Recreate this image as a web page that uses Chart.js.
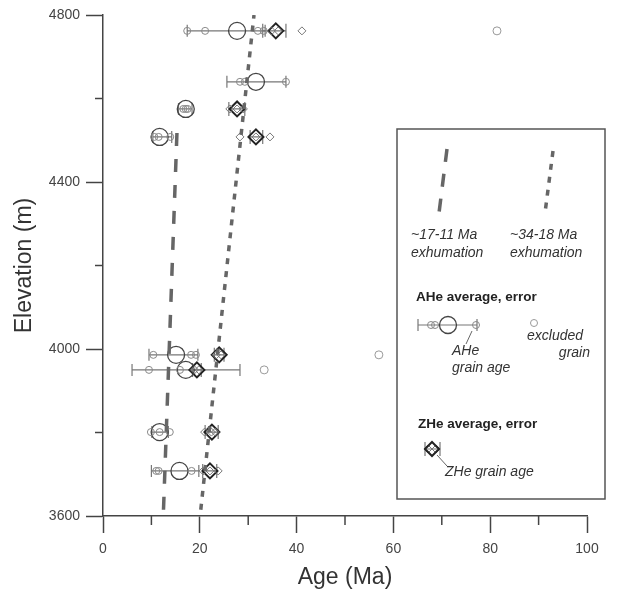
<!DOCTYPE html>
<html>
<head>
<meta charset="utf-8">
<script src="https://cdn.jsdelivr.net/npm/chart.js@4/dist/chart.umd.min.js"></script>
<style>
  html, body { margin: 0; padding: 0; background: #fff; }
  canvas { display: block; }
</style>
</head>
<body>
<canvas id="c" width="621" height="592"></canvas>
<script>
// ---------- DATA ----------
// AHe sample averages (elevation m, mean age Ma, error bar low/high Ma)
const aheElev = [4762, 4640, 4575, 4508, 3986, 3950, 3801, 3708];
const aheMean = [27.7, 31.6, 17.1, 11.7, 15.1, 17.1, 11.7, 15.8];
const aheLow  = [17.4, 25.6, 15.6, 10.3, 9.5, 6.0, 10.1, 10.0];
const aheHigh = [33.5, 37.8, 18.4, 14.2, 19.6, 28.3, 13.5, 19.8];

// AHe single-grain ages
const aheGrainAge  = [17.4, 21.1, 32.0, 33.2, 28.3, 29.3, 37.8, 16.6, 17.1, 17.5, 10.6, 11.5, 13.9,
                      10.4, 18.2, 19.2, 9.5, 15.9, 9.9, 11.7, 13.8, 11.0, 11.5, 18.3];
const aheGrainElev = [4762, 4762, 4762, 4762, 4640, 4640, 4640, 4575, 4575, 4575, 4508, 4508, 4508,
                      3986, 3986, 3986, 3950, 3950, 3801, 3801, 3801, 3708, 3708, 3708];

// Excluded AHe grains
const exclAge  = [81.4, 57.0, 33.3];
const exclElev = [4762, 3986, 3950];

// ZHe sample averages
const zheElev = [4762, 4575, 4508, 3986, 3950, 3801, 3708];
const zheMean = [35.7, 27.7, 31.6, 24.0, 19.4, 22.5, 22.1];
const zheLow  = [33.0, 26.0, 30.4, 23.0, 18.5, 21.1, 20.6];
const zheHigh = [37.8, 29.3, 33.0, 25.0, 20.3, 23.8, 23.5];

// ZHe single-grain ages
const zheGrainAge  = [34.8, 36.2, 41.1, 26.2, 27.7, 29.0, 28.3, 31.6, 34.5, 23.4, 24.4, 18.9, 19.8,
                      21.0, 22.4, 23.2, 20.7, 22.1, 23.8];
const zheGrainElev = [4762, 4762, 4762, 4575, 4575, 4575, 4508, 4508, 4508, 3986, 3986, 3950, 3950,
                      3801, 3801, 3801, 3708, 3708, 3708];

// Exhumation trend lines
const fastTrendAge  = [12.5, 15.3];
const fastTrendElev = [3615, 4525];
const slowTrendAge  = [20.2, 31.2];
const slowTrendElev = [3615, 4800];

// Axis ticks
const xTickStep = 10, xLabelStep = 20;
const yTickStep = 200, yLabelStep = 400;

// ---------- HELPERS ----------
const pts = (xs, ys) => xs.map((x, i) => ({x: x, y: ys[i]}));
const FONT = '"Liberation Sans", Arial, Helvetica, sans-serif';

const errorBarPlugin = {
  id: 'errorBars',
  beforeDatasetsDraw(chart) {
    const {ctx, scales: {x, y}} = chart;
    ctx.save();
    ctx.strokeStyle = '#777';
    ctx.lineWidth = 1.2;
    const draw = (lo, hi, el, cap) => {
      for (let i = 0; i < el.length; i++) {
        const py = y.getPixelForValue(el[i]);
        const x1 = x.getPixelForValue(lo[i]);
        const x2 = x.getPixelForValue(hi[i]);
        ctx.beginPath();
        ctx.moveTo(x1, py); ctx.lineTo(x2, py);
        ctx.moveTo(x1, py - cap); ctx.lineTo(x1, py + cap);
        ctx.moveTo(x2, py - cap); ctx.lineTo(x2, py + cap);
        ctx.stroke();
      }
    };
    draw(aheLow, aheHigh, aheElev, 6);
    draw(zheLow, zheHigh, zheElev, 7);
    ctx.restore();
  }
};

const minorTickPlugin = {
  id: 'minorTicks',
  afterDraw(chart) {
    const {ctx, scales: {x, y}} = chart;
    ctx.save();
    ctx.strokeStyle = '#444';
    ctx.lineWidth = 1.5;
    for (let v = x.min; v <= x.max; v += xTickStep) {
      if (v % xLabelStep === 0) continue;
      const px = x.getPixelForValue(v);
      ctx.beginPath(); ctx.moveTo(px, x.top); ctx.lineTo(px, x.top + 9); ctx.stroke();
    }
    for (let v = y.min; v <= y.max; v += yTickStep) {
      if (v % yLabelStep === 0) continue;
      const py = y.getPixelForValue(v);
      ctx.beginPath(); ctx.moveTo(y.right, py); ctx.lineTo(y.right - 8, py); ctx.stroke();
    }
    ctx.restore();
  }
};

const legendPlugin = {
  id: 'customLegend',
  afterDraw(chart) {
    const ctx = chart.ctx;
    ctx.save();
    // box
    ctx.strokeStyle = '#555';
    ctx.lineWidth = 1.5;
    ctx.strokeRect(397, 129, 208, 370);

    // sample trend lines
    ctx.strokeStyle = '#666';
    ctx.lineWidth = 3.5;
    ctx.setLineDash([13, 12]);
    ctx.beginPath(); ctx.moveTo(447, 149); ctx.lineTo(439, 213); ctx.stroke();
    ctx.setLineDash([6, 7]);
    ctx.beginPath(); ctx.moveTo(553, 151); ctx.lineTo(545, 213); ctx.stroke();
    ctx.setLineDash([]);

    // texts
    ctx.fillStyle = '#333';
    ctx.textBaseline = 'middle';
    ctx.textAlign = 'left';
    ctx.font = 'italic 14px ' + FONT;
    ctx.fillText('~17-11 Ma', 411, 235);
    ctx.fillText('exhumation', 411, 253);
    ctx.fillText('~34-18 Ma', 510, 235);
    ctx.fillText('exhumation', 510, 253);
    ctx.fillText('AHe', 452, 351);
    ctx.fillText('grain age', 452, 368);
    ctx.fillText('excluded', 527, 336);
    ctx.fillText('ZHe grain age', 445, 472);
    ctx.textAlign = 'right';
    ctx.fillText('grain', 590, 353);
    ctx.textAlign = 'left';
    ctx.fillStyle = '#222';
    ctx.font = 'bold 13.5px ' + FONT;
    ctx.fillText('AHe average, error', 416, 297);
    ctx.fillText('ZHe average, error', 418, 424);

    // AHe sample symbol
    ctx.strokeStyle = '#777'; ctx.lineWidth = 1.2;
    ctx.beginPath();
    ctx.moveTo(418, 325); ctx.lineTo(477, 325);
    ctx.moveTo(418, 319); ctx.lineTo(418, 331);
    ctx.moveTo(477, 319); ctx.lineTo(477, 331);
    ctx.stroke();
    const circ = (cx, cy, r, col, w) => {
      ctx.strokeStyle = col; ctx.lineWidth = w;
      ctx.beginPath(); ctx.arc(cx, cy, r, 0, Math.PI * 2); ctx.stroke();
    };
    const diam = (cx, cy, r, col, w) => {
      ctx.strokeStyle = col; ctx.lineWidth = w;
      ctx.beginPath();
      ctx.moveTo(cx - r, cy); ctx.lineTo(cx, cy - r); ctx.lineTo(cx + r, cy); ctx.lineTo(cx, cy + r);
      ctx.closePath(); ctx.stroke();
    };
    circ(431, 325, 3.5, '#888', 1);
    circ(435, 325, 3.5, '#888', 1);
    circ(476, 325, 3.5, '#888', 1);
    circ(448, 325, 8.5, '#444', 1.3);
    circ(534, 323, 3.5, '#999', 1);
    ctx.strokeStyle = '#666'; ctx.lineWidth = 1;
    ctx.beginPath(); ctx.moveTo(472, 331); ctx.lineTo(466, 344); ctx.stroke();

    // ZHe sample symbol
    ctx.strokeStyle = '#777'; ctx.lineWidth = 1.2;
    ctx.beginPath();
    ctx.moveTo(425, 449); ctx.lineTo(440, 449);
    ctx.moveTo(425, 442); ctx.lineTo(425, 456);
    ctx.moveTo(440, 442); ctx.lineTo(440, 456);
    ctx.stroke();
    diam(428, 449, 4, '#777', 1);
    diam(436, 449, 4, '#777', 1);
    diam(432, 449, 7, '#222', 2);
    ctx.strokeStyle = '#666'; ctx.lineWidth = 1;
    ctx.beginPath(); ctx.moveTo(437, 455); ctx.lineTo(447, 466); ctx.stroke();
    ctx.restore();
  }
};

// ---------- CHART ----------
new Chart(document.getElementById('c').getContext('2d'), {
  type: 'scatter',
  data: {
    datasets: [
      { label: '~17-11 Ma exhumation', data: pts(fastTrendAge, fastTrendElev), showLine: true,
        borderColor: '#666', borderWidth: 3.5, borderDash: [13, 13], pointRadius: 0, fill: false },
      { label: '~34-18 Ma exhumation', data: pts(slowTrendAge, slowTrendElev), showLine: true,
        borderColor: '#666', borderWidth: 3.5, borderDash: [6, 7], pointRadius: 0, fill: false },
      { label: 'excluded grain', data: pts(exclAge, exclElev), pointStyle: 'circle', pointRadius: 4,
        borderColor: '#999', borderWidth: 1, backgroundColor: 'rgba(0,0,0,0)' },
      { label: 'AHe grain age', data: pts(aheGrainAge, aheGrainElev), pointStyle: 'circle', pointRadius: 3.5,
        borderColor: '#888', borderWidth: 1, backgroundColor: 'rgba(0,0,0,0)' },
      { label: 'AHe average', data: pts(aheMean, aheElev), pointStyle: 'circle', pointRadius: 8.5,
        borderColor: '#444', borderWidth: 1.3, backgroundColor: 'rgba(0,0,0,0)' },
      { label: 'ZHe grain age', data: pts(zheGrainAge, zheGrainElev), pointStyle: 'rectRot', pointRadius: 4,
        borderColor: '#777', borderWidth: 1, backgroundColor: 'rgba(0,0,0,0)' },
      { label: 'ZHe average', data: pts(zheMean, zheElev), pointStyle: 'rectRot', pointRadius: 7.5,
        borderColor: '#222', borderWidth: 2, backgroundColor: 'rgba(0,0,0,0)' }
    ]
  },
  options: {
    responsive: false,
    animation: false,
    events: [],
    layout: { padding: { top: 15, right: 34, left: 0, bottom: 0 } },
    plugins: { legend: { display: false }, tooltip: { enabled: false } },
    scales: {
      x: {
        type: 'linear', position: 'bottom', min: 0, max: 100,
        afterFit: s => { s.height = 76; },
        ticks: { stepSize: xTickStep, autoSkip: false, maxRotation: 0,
                 callback: v => (v % xLabelStep === 0 ? v : ''),
                 font: { family: FONT, size: 14 }, color: '#444', padding: 8 },
        grid: { drawOnChartArea: false, drawTicks: true, tickLength: 17, tickWidth: 1.5,
                tickColor: c => (c.tick && c.tick.value % xLabelStep === 0 ? '#444' : 'rgba(0,0,0,0)') },
        border: { color: '#444', width: 1.5 },
        title: { display: true, text: 'Age (Ma)', color: '#333',
                 font: { family: FONT, size: 23 }, padding: { top: 0, bottom: 1 } }
      },
      y: {
        type: 'linear', position: 'left', min: 3600, max: 4800,
        afterFit: s => { s.width = 103; },
        ticks: { stepSize: yTickStep, autoSkip: false,
                 callback: v => (v % yLabelStep === 0 ? v : ''),
                 font: { family: FONT, size: 14 }, color: '#444', padding: 6 },
        grid: { drawOnChartArea: false, drawTicks: true, tickLength: 17, tickWidth: 1.5,
                tickColor: c => (c.tick && c.tick.value % yLabelStep === 0 ? '#444' : 'rgba(0,0,0,0)') },
        border: { color: '#444', width: 1.5 },
        title: { display: true, text: 'Elevation (m)', color: '#333',
                 font: { family: FONT, size: 23 }, padding: { top: 11, bottom: 0 } }
      }
    }
  },
  plugins: [errorBarPlugin, minorTickPlugin, legendPlugin]
});
</script>
</body>
</html>
